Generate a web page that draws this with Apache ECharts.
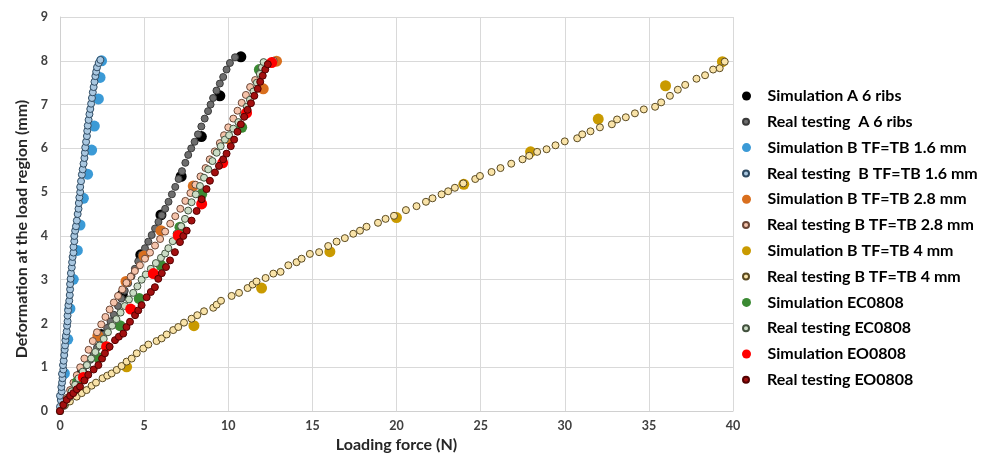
<!DOCTYPE html>
<html><head><meta charset="utf-8">
<script src="https://cdn.jsdelivr.net/npm/echarts@6/dist/echarts.min.js"></script>
<style>html,body{margin:0;padding:0;background:#fff}#c{width:991px;height:458px}</style>
</head><body><div id="c"></div>
<script>
// x: loading force (N), y: deformation (mm)
const xTicks = [0, 5, 10, 15, 20, 25, 30, 35, 40];
const yTicks = [0, 1, 2, 3, 4, 5, 6, 7, 8, 9];

const simA = [[1.3,0.86],[2.45,1.75],[3.7,2.66],[4.8,3.57],[6.0,4.48],[7.2,5.36],[8.4,6.27],[9.5,7.2],[10.75,8.09]];
const realA = [[0,0],[0.25,0.12],[0.5,0.28],[0.75,0.45],[1.0,0.6],[1.2,0.75],[1.4,0.9],[1.6,1.05],[1.8,1.17],[2.0,1.3],[2.2,1.45],[2.4,1.6],[2.6,1.75],[2.8,1.9],[3.0,2.05],[3.2,2.2],[3.45,2.4],[3.65,2.57],[3.85,2.75],[4.05,2.92],[4.25,3.08],[4.45,3.25],[4.65,3.42],[4.85,3.57],[5.05,3.72],[5.25,3.87],[5.45,4.02],[5.65,4.17],[5.85,4.32],[6.05,4.47],[6.25,4.62],[6.45,4.78],[6.65,4.95],[6.85,5.12],[7.05,5.3],[7.25,5.48],[7.45,5.67],[7.62,5.85],[7.8,6.0],[8.0,6.15],[8.2,6.32],[8.4,6.5],[8.6,6.68],[8.8,6.85],[8.95,7.0],[9.1,7.15],[9.3,7.32],[9.5,7.48],[9.7,7.63],[9.9,7.8],[10.1,7.95],[10.4,8.08]];

const simB16 = [[0.26,0.86],[0.46,1.64],[0.59,2.34],[0.79,3.01],[1.03,3.67],[1.19,4.25],[1.39,4.86],[1.64,5.41],[1.88,5.96],[2.04,6.51],[2.28,7.13],[2.38,7.62],[2.47,8.0]];
const realB16 = [[0.0,0.1],[0.05,0.25],[0.0,0.35],[0.1,0.45],[0.08,0.55],[0.12,0.65],[0.15,0.75],[0.12,0.85],[0.2,0.95],[0.18,1.05],[0.22,1.15],[0.25,1.28],[0.28,1.4],[0.3,1.5],[0.32,1.62],[0.35,1.72],[0.4,1.82],[0.42,1.95],[0.45,2.05],[0.45,2.18],[0.48,2.3],[0.5,2.42],[0.55,2.52],[0.58,2.65],[0.6,2.78],[0.6,2.9],[0.63,3.02],[0.65,3.15],[0.7,3.28],[0.72,3.4],[0.75,3.52],[0.8,3.62],[0.8,3.75],[0.85,3.88],[0.85,4.0],[0.9,4.12],[0.95,4.22],[1.0,4.35],[1.05,4.5],[1.1,4.62],[1.12,4.75],[1.15,4.88],[1.2,5.0],[1.2,5.12],[1.25,5.25],[1.3,5.4],[1.35,5.52],[1.4,5.65],[1.45,5.78],[1.48,5.9],[1.5,6.02],[1.55,6.15],[1.6,6.28],[1.62,6.4],[1.65,6.52],[1.7,6.65],[1.75,6.78],[1.8,6.9],[1.85,7.02],[1.9,7.15],[1.95,7.28],[2.0,7.4],[2.05,7.52],[2.1,7.65],[2.15,7.75],[2.2,7.85],[2.3,7.95],[2.4,8.02]];

const simB28 = [[2.25,1.72],[3.92,2.96],[4.99,3.54],[6.0,4.12],[7.92,5.14],[10.0,6.22],[12.08,7.36],[12.87,7.99]];
const realB28 = [[0,0],[0.2,0.15],[0.4,0.3],[0.6,0.48],[0.8,0.65],[1.0,0.82],[1.2,1.0],[1.45,1.2],[1.7,1.4],[1.95,1.6],[2.2,1.8],[2.45,1.98],[2.7,2.15],[2.95,2.32],[3.2,2.48],[3.45,2.63],[3.7,2.78],[3.95,2.93],[4.2,3.07],[4.45,3.2],[4.75,3.33],[5.05,3.48],[5.35,3.62],[5.65,3.78],[5.95,3.93],[6.25,4.1],[6.55,4.28],[6.85,4.45],[7.15,4.62],[7.45,4.8],[7.75,4.98],[8.05,5.17],[8.35,5.36],[8.65,5.55],[8.9,5.75],[9.2,5.93],[9.5,6.12],[9.75,6.3],[10.0,6.48],[10.3,6.68],[10.55,6.86],[10.8,7.04],[11.05,7.22],[11.3,7.4],[11.6,7.56],[11.9,7.7],[12.2,7.84],[12.5,7.95],[12.7,8.0]];

const simB4 = [[3.96,1.01],[7.96,1.95],[11.98,2.81],[16.04,3.64],[20.0,4.42],[24.0,5.18],[27.97,5.92],[31.99,6.67],[35.99,7.43],[39.37,7.98]];
const realB4 = [[0,0],[0.3,0.14],[0.59,0.22],[0.99,0.33],[1.29,0.41],[1.58,0.48],[1.88,0.58],[2.14,0.65],[2.53,0.75],[2.81,0.81],[3.07,0.86],[3.37,0.94],[3.66,1.03],[3.96,1.13],[4.26,1.2],[4.56,1.32],[4.95,1.43],[5.25,1.52],[5.74,1.6],[6.04,1.66],[6.34,1.75],[6.73,1.85],[7.03,1.92],[7.37,2.02],[7.82,2.11],[8.16,2.19],[8.56,2.28],[9.11,2.36],[9.31,2.43],[9.57,2.52],[10.2,2.63],[10.64,2.7],[11.15,2.81],[11.45,2.89],[11.68,2.96],[12.22,3.04],[12.68,3.14],[13.11,3.18],[13.57,3.33],[14.06,3.4],[14.36,3.48],[14.85,3.59],[15.4,3.63],[15.94,3.77],[16.44,3.87],[16.93,3.95],[17.43,4.05],[17.83,4.12],[18.22,4.21],[18.9,4.3],[19.35,4.39],[19.85,4.46],[20.56,4.59],[21.19,4.68],[21.75,4.78],[22.14,4.86],[22.68,4.95],[23.07,5.02],[23.47,5.1],[23.97,5.2],[24.68,5.3],[24.96,5.37],[25.65,5.46],[26.18,5.55],[26.82,5.65],[27.49,5.75],[27.89,5.83],[28.36,5.92],[28.92,5.98],[29.45,6.07],[30.0,6.16],[30.74,6.23],[31.04,6.32],[31.53,6.39],[32.09,6.48],[32.8,6.55],[33.11,6.66],[33.63,6.71],[34.17,6.8],[34.7,6.89],[35.37,6.95],[35.73,7.05],[36.25,7.2],[36.72,7.34],[37.16,7.45],[37.83,7.59],[38.34,7.67],[38.82,7.8],[39.21,7.83],[39.51,7.98]];

const simEC = [[1.05,0.67],[2.28,1.22],[3.57,1.95],[4.71,2.57],[6.0,3.33],[7.13,4.2],[8.42,4.95],[10.8,6.48],[11.85,7.8]];
const realEC = [[0,0],[0.25,0.15],[0.5,0.3],[0.69,0.45],[0.9,0.6],[1.1,0.75],[1.35,0.9],[1.6,1.05],[1.85,1.2],[2.1,1.35],[2.35,1.5],[2.6,1.65],[2.85,1.8],[3.1,1.95],[3.35,2.1],[3.6,2.25],[3.85,2.4],[4.1,2.55],[4.35,2.7],[4.6,2.85],[4.85,3.0],[5.1,3.12],[5.4,3.25],[5.7,3.38],[6.0,3.5],[6.25,3.6],[6.44,3.72],[6.7,3.88],[6.93,4.05],[7.2,4.22],[7.43,4.39],[7.62,4.58],[7.82,4.77],[8.07,4.95],[8.32,5.14],[8.56,5.33],[8.81,5.52],[9.06,5.71],[9.31,5.9],[9.55,6.05],[9.8,6.2],[10.05,6.3],[10.3,6.45],[10.6,6.6],[10.89,6.76],[11.1,6.95],[11.29,7.11],[11.5,7.3],[11.7,7.5],[11.88,7.7],[12.0,7.85],[12.1,7.97]];

const simEO = [[1.39,0.77],[2.77,1.47],[4.2,2.33],[5.55,3.14],[7.03,4.01],[8.42,4.73],[9.67,5.67],[11.09,6.81],[12.58,7.96]];
const realEO = [[0,0],[0.2,0.14],[0.4,0.26],[0.6,0.35],[0.79,0.41],[1.0,0.5],[1.19,0.56],[1.45,0.7],[1.68,0.83],[2.0,0.95],[2.28,1.05],[2.5,1.2],[2.67,1.32],[2.95,1.47],[3.27,1.62],[3.5,1.7],[3.76,1.77],[3.95,1.92],[4.16,2.04],[4.46,2.19],[4.65,2.3],[4.85,2.42],[5.15,2.6],[5.4,2.72],[5.64,2.83],[5.84,3.02],[6.05,3.15],[6.3,3.29],[6.54,3.44],[6.83,3.63],[7.13,3.86],[7.33,4.0],[7.53,4.12],[7.82,4.35],[8.12,4.57],[8.42,4.84],[8.71,5.07],[8.91,5.26],[9.21,5.45],[9.45,5.6],[9.7,5.75],[9.9,5.88],[10.15,6.05],[10.35,6.2],[10.55,6.38],[10.75,6.55],[10.95,6.72],[11.15,6.88],[11.35,7.03],[11.55,7.2],[11.75,7.36],[11.9,7.52],[12.05,7.66],[12.2,7.8],[12.35,7.92]];

const seriesDefs = [
  {name:'Simulation A 6 ribs', data:simA, sim:true, color:'#000000'},
  {name:'Real testing  A 6 ribs', data:realA, sim:false, color:'#6e6e6e', border:'#3a3a3a'},
  {name:'Simulation B TF=TB 1.6 mm', data:simB16, sim:true, color:'#3b9ad6'},
  {name:'Real testing  B TF=TB 1.6 mm', data:realB16, sim:false, color:'#a9c7e0', border:'#2e4a62'},
  {name:'Simulation B TF=TB 2.8 mm', data:simB28, sim:true, color:'#d96f1e'},
  {name:'Real testing B TF=TB 2.8 mm', data:realB28, sim:false, color:'#f5c3aa', border:'#6a4636'},
  {name:'Simulation B TF=TB 4 mm', data:simB4, sim:true, color:'#c99a00'},
  {name:'Real testing B TF=TB 4 mm', data:realB4, sim:false, color:'#f9e3a8', border:'#5a4a22'},
  {name:'Simulation EC0808', data:simEC, sim:true, color:'#3b8a33'},
  {name:'Real testing EC0808', data:realEC, sim:false, color:'#cbdcc5', border:'#43523f'},
  {name:'Simulation EO0808', data:simEO, sim:true, color:'#ff0000'},
  {name:'Real testing EO0808', data:realEO, sim:false, color:'#a30f0f', border:'#520000'}
];

const font = 'Lato, "Open Sans", sans-serif';
const chart = echarts.init(document.getElementById('c'), null, {renderer:'canvas'});

const legendTop0 = 83, legendStep = 25.8;
const legends = seriesDefs.map((s, i) => ({
  data: [s.name],
  left: 737,
  top: legendTop0 + i * legendStep,
  orient: 'vertical',
  icon: 'circle',
  itemWidth: 32,
  itemHeight: s.sim ? 9 : 6,
  symbolKeepAspect: true,
  selectedMode: false,
  textStyle: {fontFamily: font, fontWeight: 'bold', fontSize: 16, color: '#000'}
}));

chart.setOption({
  animation: false,
  backgroundColor: '#fff',
  grid: {left: 60, right: 258, top: 17, bottom: 45, containLabel: false},
  legend: legends,
  xAxis: {
    type: 'value', min: 0, max: 40, interval: 5,
    name: 'Loading force (N)', nameLocation: 'middle', nameGap: 22,
    nameTextStyle: {fontFamily: font, fontWeight: 'bold', fontSize: 16, color: '#262626'},
    axisLine: {show: true, lineStyle: {color: '#d0d0d0'}},
    axisTick: {show: false},
    axisLabel: {margin: 8, fontFamily: font, fontWeight: 'bold', fontSize: 12.5, color: '#404040',
      formatter: v => xTicks.includes(v) ? String(v) : ''},
    splitLine: {show: true, lineStyle: {color: '#d9d9d9', width: 1}}
  },
  yAxis: {
    type: 'value', min: 0, max: 9, interval: 1,
    name: 'Deformation at the load region (mm)', nameLocation: 'middle', nameGap: 27,
    nameTextStyle: {fontFamily: font, fontWeight: 'bold', fontSize: 16, color: '#262626', padding: [0, 30, 0, 0]},
    axisLine: {show: true, lineStyle: {color: '#d0d0d0'}},
    axisTick: {show: false},
    axisLabel: {margin: 12, fontFamily: font, fontWeight: 'bold', fontSize: 12.5, color: '#404040',
      formatter: v => yTicks.includes(v) ? String(v) : ''},
    splitLine: {show: true, lineStyle: {color: '#d9d9d9', width: 1}}
  },
  series: seriesDefs.map(s => ({
    name: s.name,
    type: 'scatter',
    data: s.data,
    symbol: 'circle',
    symbolSize: s.sim ? 11 : 7,
    itemStyle: s.sim ? {color: s.color, opacity: 1} : {color: s.color, borderColor: s.border, borderWidth: 1, opacity: 1},
    emphasis: {disabled: true}
  }))
});
</script>
</body></html>
